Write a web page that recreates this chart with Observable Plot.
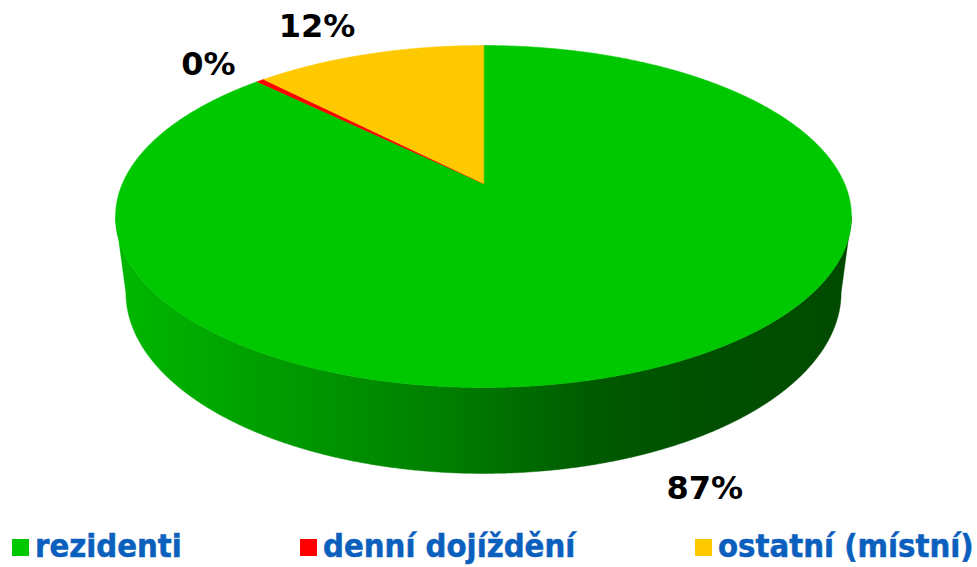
<!DOCTYPE html>
<html>
<head>
<meta charset="utf-8">
<script src="https://cdn.jsdelivr.net/npm/d3@7"></script>
<script src="https://cdn.jsdelivr.net/npm/@observablehq/plot@0.6"></script>
<style>
  body { margin: 0; background: #ffffff; }
  #wrap { position: relative; width: 977px; height: 567px; overflow: hidden; }
  #chart svg { display: block; }
  #legend { position: absolute; left: 0; top: 528px; width: 977px; height: 39px; }
  .sw { position: absolute; top: 11px; width: 17px; height: 17px; }
  .lt { position: absolute; top: 3px; font-family: "DejaVu Sans Condensed", "DejaVu Sans", sans-serif;
        font-stretch: condensed; font-weight: bold; font-size: 32.5px; line-height: 31px; color: #0b5fbd;
        -webkit-text-stroke: 0.5px #0b5fbd; white-space: nowrap; }
</style>
</head>
<body>
<div id="wrap"><div id="chart"></div><div id="legend"></div></div>
<script>
// ---- data ----
const categories = ["rezidenti", "denní dojíždění", "ostatní (místní)"];
const values = [87.4, 0.4, 12.2];
const labels = ["87%", "0%", "12%"];
const colors = ["#00c800", "#ff0000", "#ffc900"];
const legendX = [12, 300, 695];

// ---- geometry (perspective 3D pie) ----
const W = 977, H = 528;
const CX = 483, CY = 183;      // centre of the top face
const A = 361, B = 164.6;      // radii of the projected circle
const K = 0.193;               // perspective strength
const DROP = 69.4;             // thickness of the pie
const SB = 0.972;              // bottom face appears slightly smaller (farther away)

function proj(phi, r = 1, drop = 0, s = 1) {
  const w = 1 + K * r * Math.cos(phi);
  return [CX + A * s * r * Math.sin(phi) / w, CY + (-B * s * r * Math.cos(phi) + drop) / w];
}
function arcPts(a0, a1, drop, s = 1) {
  const n = Math.max(2, Math.ceil(Math.abs(a1 - a0) / 0.004) + 1);
  return d3.range(n).map(j => proj(a0 + (a1 - a0) * j / (n - 1), 1, drop, s));
}

const total = d3.sum(values);
let cum = 0;
const slices = values.map((v, i) => {
  const a0 = 2 * Math.PI * cum / total;
  cum += v;
  const a1 = 2 * Math.PI * cum / total;
  return {i, key: categories[i], a0, a1, mid: (a0 + a1) / 2, color: colors[i]};
});

// top faces
const topRows = [];
for (const s of slices) {
  const pts = [[CX, CY], ...arcPts(s.a0, s.a1, 0)];
  pts.forEach(([x, y]) => topRows.push({key: s.key, x, y, fill: s.color}));
}

// visible front side
const phiR = Math.acos(-K), phiL = 2 * Math.PI - phiR;
const bottomDrop = DROP + B * (1 - SB);
const sideRows = [];
for (const s of slices) {
  const st = Math.max(s.a0, phiR), en = Math.min(s.a1, phiL);
  if (en <= st) continue;
  const pts = [...arcPts(st, en, 0), ...arcPts(en, st, bottomDrop, SB)];
  pts.forEach(([x, y]) => sideRows.push({key: s.key, x, y, fill: `url(#side-${s.i})`}));
}

// labels
const labelRows = slices.map(s => {
  const front = Math.cos(s.mid) < 0;
  const [x, y] = proj(s.mid, 1, front ? DROP : 0);
  return {
    x: x + 52 * Math.sign(Math.sin(s.mid)),
    y: y - 34 * Math.cos(s.mid) + 12 * Math.abs(Math.sin(s.mid)),
    text: labels[s.i]
  };
});

const xl = CX - A / Math.sqrt(1 - K * K), xr = CX + A / Math.sqrt(1 - K * K);
const shade = [0.08, 0.24, 0.37, 0.55, 0.6, 0.63];
const offs = [0, 0.25, 0.45, 0.65, 0.8, 1];

const defsMark = () => {
  const defs = d3.create("svg:defs");
  slices.forEach(s => {
    const g = defs.append("linearGradient")
      .attr("id", `side-${s.i}`)
      .attr("gradientUnits", "userSpaceOnUse")
      .attr("x1", xl).attr("x2", xr).attr("y1", 0).attr("y2", 0);
    shade.forEach((t, j) => g.append("stop")
      .attr("offset", offs[j])
      .attr("stop-color", d3.interpolateRgb(s.color, "#000")(t)));
  });
  return defs.node();
};

const chart = Plot.plot({
  width: W, height: H,
  margin: 0,
  x: {domain: [0, W], range: [0, W], axis: null},
  y: {domain: [0, H], range: [0, H], axis: null},
  color: {type: "identity"},
  style: {background: "#ffffff"},
  marks: [
    defsMark,
    Plot.line(sideRows, {x: "x", y: "y", z: "key", fill: "fill", stroke: "fill", strokeWidth: 0.5, curve: "linear-closed"}),
    Plot.line(topRows, {x: "x", y: "y", z: "key", fill: "fill", stroke: "fill", strokeWidth: 0.6, curve: "linear-closed"}),
    Plot.text(labelRows, {x: "x", y: "y", text: "text", fontSize: 32, fontWeight: "bold",
      fontFamily: "DejaVu Sans, Verdana, sans-serif", fill: "#000", textAnchor: "middle", lineAnchor: "middle"})
  ]
});
document.getElementById("chart").appendChild(chart);

// legend
const leg = d3.select("#legend");
categories.forEach((c, i) => {
  leg.append("div").attr("class", "sw").style("left", legendX[i] + "px").style("background", colors[i]);
  leg.append("div").attr("class", "lt").style("left", (legendX[i] + 23) + "px").text(c);
});
</script>
</body>
</html>
